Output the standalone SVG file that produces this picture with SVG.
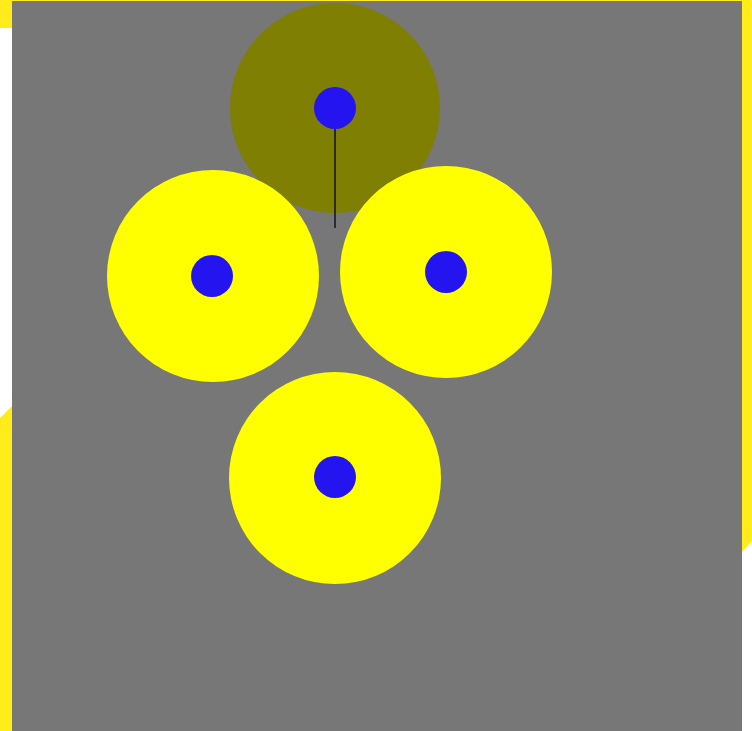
<svg xmlns="http://www.w3.org/2000/svg" width="752" height="731" viewBox="0 0 752 731">
<style>
.ring{fill:#ffff00}
.hub{fill:#2314f0}
</style>
<rect x="0" y="0" width="752" height="731" fill="#ffffff"/>
<g id="backdrop">
<rect x="0" y="0" width="752" height="2" fill="#ffec1a"/>
<rect x="0" y="0" width="13" height="28" fill="#ffec1a"/>
<polygon points="0,418 13,405 13,731 0,731" fill="#ffec1a"/>
<polygon points="741,0 752,0 752,541 741,553" fill="#ffec1a"/>
<rect x="12" y="1" width="730" height="730" fill="#777777"/>
</g>
<g id="connectors">
<line x1="335" y1="108" x2="335" y2="228" stroke="#2a2a3a" stroke-width="2"/>
</g>
<g id="node-top">
<circle cx="335" cy="108" r="105" fill="#7f7f00" opacity="0.97"/>
<line x1="335" y1="108" x2="335" y2="213" stroke="#2a2a2a" stroke-width="2"/>
<circle class="hub" cx="335" cy="108" r="21"/>
</g>
<g id="node-left">
<circle class="ring" cx="213" cy="276" r="106"/>
<circle class="hub" cx="212" cy="276" r="21"/>
</g>
<g id="node-right">
<circle class="ring" cx="446" cy="272" r="106"/>
<circle class="hub" cx="446" cy="272" r="21"/>
</g>
<g id="node-bottom">
<circle class="ring" cx="335" cy="478" r="106"/>
<circle class="hub" cx="335" cy="477" r="21"/>
</g>
</svg>
